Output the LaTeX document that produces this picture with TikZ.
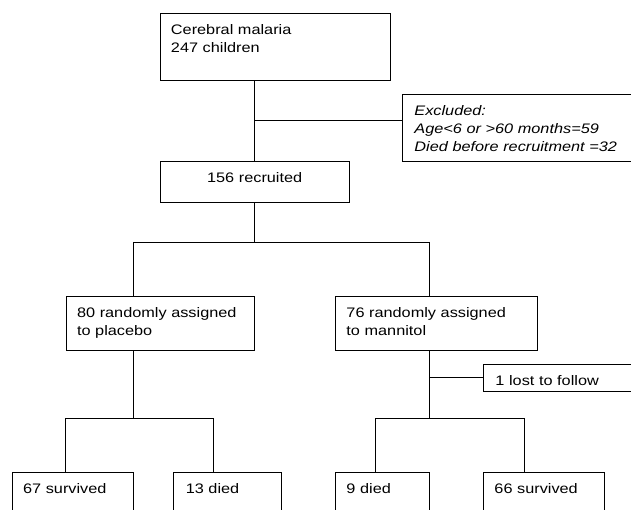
\documentclass[tikz,border=0pt]{standalone}
\usepackage{fontspec}
\setmainfont[FakeStretch=1.18]{Liberation Sans}
\begin{document}
\begin{tikzpicture}[x=1pt, y=-1pt,
		flowbox/.style={draw, line width=0.9pt, anchor=north west, align=left,
			inner xsep=11pt, inner ysep=5pt, text height=16pt, text depth=#1,
			font=\fontsize{13.8}{18}\selectfont},
		link/.style={line width=0.9pt}]
			\useasboundingbox (0,0) rectangle (631,510);
			\clip (0,0) rectangle (631,510);
			% boxes
			\node[flowbox=41.5pt, text width=208.5pt] (malaria) at (159.5,13) {Cerebral malaria\\247 children};
			\node[flowbox=41pt, text width=226pt, inner xsep=12pt, font=\fontsize{13.8}{18}\selectfont\itshape] (excluded) at (402,94) {Excluded:\\Age<6 or >60 months=59\\Died before recruitment =32};
			\node[flowbox=14.7pt, text width=167.5pt, align=center] (recruited) at (159.5,161.3) {156 recruited};
			\node[flowbox=28pt, text width=166.7pt] (placebo) at (65.6,296) {80 randomly assigned\\to placebo};
			\node[flowbox=28pt, text width=180pt] (mannitol) at (335,296) {76 randomly assigned\\to mannitol};
			\node[flowbox=0.7pt, text width=146pt, inner xsep=12pt] (lost) at (483,364) {1 lost to follow};
			\node[flowbox=34pt, text width=99.6pt] (survP) at (11.7,471.7) {67 survived};
			\node[flowbox=34pt, text width=83.7pt, inner xsep=12pt] (diedP) at (173.3,471.7) {13 died};
			\node[flowbox=34pt, text width=72pt] (diedM) at (335,471.7) {9 died};
			\node[flowbox=34pt, text width=99pt] (survM) at (483,471.7) {66 survived};
			% branch points
			\coordinate (jTop) at (254.3,120.7);
			\coordinate (jMid) at (254.3,242);
			\coordinate (jP) at (133,242);
			\coordinate (jM) at (429,242);
			\coordinate (jLost) at (429,377);
			\coordinate (jPlo) at (133,418);
			\coordinate (jMlo) at (429,418);
			\coordinate (jPl) at (65.6,418);
			\coordinate (jPr) at (213,418);
			\coordinate (jMl) at (375.5,418);
			\coordinate (jMr) at (524,418);
			% connectors
			\draw[link] (malaria.south -| jTop) -- (jTop |- recruited.north);
			\draw[link] (jTop) -- (jTop -| excluded.west);
			\draw[link] (jMid |- recruited.south) -- (jMid);
			\draw[link] (jP) -- (jM);
			\draw[link] (jP) -- (jP |- placebo.north);
			\draw[link] (jM) -- (jM |- mannitol.north);
			\draw[link] (jPlo |- placebo.south) -- (jPlo);
			\draw[link] (jMlo |- mannitol.south) -- (jMlo);
			\draw[link] (jLost) -- (jLost -| lost.west);
			\draw[link] (jPl) -- (jPr);
			\draw[link] (jMl) -- (jMr);
			\foreach \j/\b in {jPl/survP, jPr/diedP, jMl/diedM, jMr/survM} {
				\draw[link] (\j) -- (\j |- \b.north);
			}
		\end{tikzpicture}
\end{document}
